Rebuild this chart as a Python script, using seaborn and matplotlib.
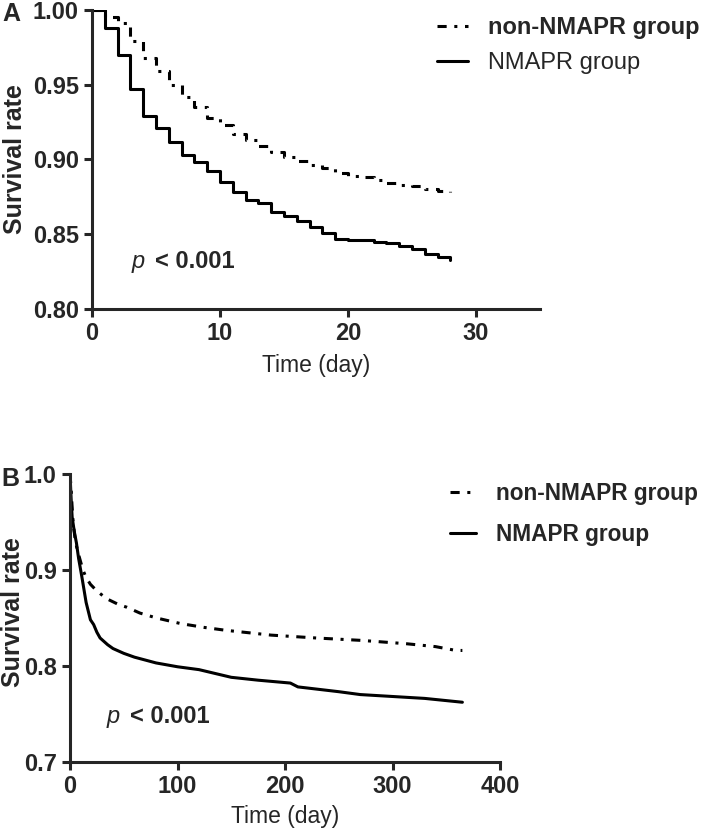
import matplotlib
matplotlib.use("Agg")
import matplotlib.pyplot as plt
import seaborn as sns
import pandas as pd

# ---------- data: panel A (28-day survival, daily steps) ----------
days_a = list(range(0, 29))
non_nmapr_a = [1.000, 0.995, 0.991, 0.979, 0.968, 0.959, 0.950, 0.942, 0.935, 0.928,
               0.923, 0.917, 0.913, 0.909, 0.905, 0.902, 0.899, 0.896, 0.894, 0.891,
               0.889, 0.888, 0.886, 0.884, 0.883, 0.882, 0.880, 0.879, 0.878]
nmapr_a = [1.000, 0.988, 0.970, 0.947, 0.929, 0.921, 0.912, 0.903, 0.898, 0.892,
           0.885, 0.878, 0.873, 0.871, 0.865, 0.862, 0.859, 0.855, 0.851, 0.847,
           0.846, 0.846, 0.845, 0.844, 0.842, 0.840, 0.837, 0.835, 0.833]

# ---------- data: panel B (1-year survival) ----------
days_b_non = [0, 1, 2, 3, 5, 7, 9, 12, 15, 19, 25, 34, 45, 53, 65, 80, 103, 125,
              145, 187, 229, 271, 313, 340, 359, 365]
non_nmapr_b = [1.000, 0.985, 0.965, 0.948, 0.930, 0.920, 0.912, 0.900, 0.892, 0.885,
               0.878, 0.870, 0.864, 0.861, 0.855, 0.850, 0.844, 0.840, 0.837, 0.832,
               0.829, 0.8265, 0.823, 0.820, 0.816, 0.816]
days_b_nm = [0, 1, 2, 4, 6, 8, 11, 15, 19, 22, 25, 28, 35, 40, 50, 60, 70, 80, 100,
             120, 150, 175, 205, 212, 250, 270, 300, 330, 365]
nmapr_b = [1.000, 0.975, 0.955, 0.940, 0.928, 0.912, 0.893, 0.866, 0.848, 0.843,
           0.835, 0.829, 0.822, 0.818, 0.813, 0.809, 0.806, 0.803, 0.799, 0.796,
           0.788, 0.785, 0.782, 0.778, 0.773, 0.770, 0.768, 0.766, 0.762]

sns.set_style("ticks")
plt.rcParams['font.family'] = ['Liberation Sans', 'DejaVu Sans']
plt.rcParams['axes.linewidth'] = 2.2

DASH = (0, (3, 2.5, 1, 2.5))
LW = 2.2

fig = plt.figure(figsize=(7.09, 8.30), dpi=100)
ax_a = fig.add_axes([92 / 709, 1 - 309 / 830, 448 / 709, 299 / 830])
ax_b = fig.add_axes([70 / 709, 1 - 761.7 / 830, 430 / 709, 287.7 / 830])


def style_axis(ax):
    sns.despine(ax=ax)
    ax.tick_params(axis='both', length=6, width=2.2, direction='out', labelsize=17)
    for lab in ax.get_xticklabels() + ax.get_yticklabels():
        lab.set_fontweight('bold')


# ---------- Panel A ----------
df_a = pd.DataFrame({'day': days_a, 'non': non_nmapr_a, 'nm': nmapr_a})
sns.lineplot(data=df_a, x='day', y='non', ax=ax_a, color='black', lw=LW,
             linestyle=DASH, drawstyle='steps-post', estimator=None, sort=False,
             label='non-NMAPR group')
sns.lineplot(data=df_a, x='day', y='nm', ax=ax_a, color='black', lw=LW,
             drawstyle='steps-post', estimator=None, sort=False, label='NMAPR group')
ax_a.set_xlim(0, 35)
ax_a.set_ylim(0.80, 1.00)
ax_a.set_xticks([0, 10, 20, 30])
ax_a.set_yticks([0.80, 0.85, 0.90, 0.95, 1.00])
ax_a.set_yticklabels(['0.80', '0.85', '0.90', '0.95', '1.00'])
style_axis(ax_a)
ax_a.set_xlabel('Time (day)', fontsize=16.5)
ax_a.set_ylabel('Survival rate', fontsize=18, fontweight='bold')
ax_a.xaxis.set_label_coords(0.5, -0.15)
ax_a.yaxis.set_label_coords(-0.145, 0.5)
ax_a.text(3.1, 0.832, 'p', fontsize=17, style='italic', va='center')
ax_a.text(4.9, 0.832, '< 0.001', fontsize=17, fontweight='bold', va='center')
leg_a = ax_a.legend(loc='upper left', bbox_to_anchor=(437 / 709, 1 - 16 / 830),
                    bbox_transform=fig.transFigure, frameon=False, fontsize=17,
                    handlelength=1.3, handletextpad=0.85, labelspacing=0.55,
                    borderpad=0, borderaxespad=0)
leg_a.get_texts()[0].set_fontweight('bold')

# ---------- Panel B ----------
df_b1 = pd.DataFrame({'day': days_b_non, 'surv': non_nmapr_b})
df_b2 = pd.DataFrame({'day': days_b_nm, 'surv': nmapr_b})
sns.lineplot(data=df_b1, x='day', y='surv', ax=ax_b, color='black', lw=LW,
             linestyle=DASH, estimator=None, sort=False, label='non-NMAPR group')
sns.lineplot(data=df_b2, x='day', y='surv', ax=ax_b, color='black', lw=LW,
             estimator=None, sort=False, label='NMAPR group')
ax_b.set_xlim(0, 400)
ax_b.set_ylim(0.7, 1.0)
ax_b.set_xticks([0, 100, 200, 300, 400])
ax_b.set_yticks([0.7, 0.8, 0.9, 1.0])
ax_b.set_yticklabels(['0.7', '0.8', '0.9', '1.0'])
style_axis(ax_b)
ax_b.set_xlabel('Time (day)', fontsize=16.5)
ax_b.set_ylabel('Survival rate', fontsize=18, fontweight='bold')
ax_b.xaxis.set_label_coords(0.5, -0.15)
ax_b.yaxis.set_label_coords(-0.105, 0.52)
ax_b.text(34, 0.747, 'p', fontsize=17, style='italic', va='center')
ax_b.text(56, 0.747, '< 0.001', fontsize=17, fontweight='bold', va='center')
leg_b = ax_b.legend(loc='upper left', bbox_to_anchor=(450 / 709, 1 - 482 / 830),
                    bbox_transform=fig.transFigure, frameon=False, fontsize=16.3,
                    handlelength=1.15, handletextpad=0.9, labelspacing=0.8,
                    borderpad=0, borderaxespad=0)
for t in leg_b.get_texts():
    t.set_fontweight('bold')

# panel letters
fig.text(2 / 709, 1 - 14 / 830, 'A', fontsize=18, fontweight='bold', va='center')
fig.text(1 / 709, 1 - 479 / 830, 'B', fontsize=18, fontweight='bold', va='center')

fig.savefig('out.png', dpi=100)
